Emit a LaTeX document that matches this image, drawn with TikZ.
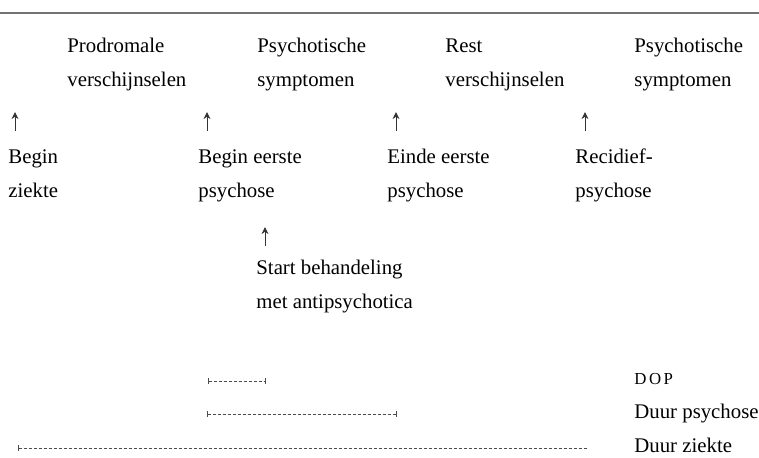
\documentclass[tikz,border=0pt]{standalone}
\usepackage{fontspec}
\setmainfont{Liberation Serif}
\usetikzlibrary{arrows.meta}

\tikzset{
  tekst/.style={anchor=base west, inner sep=0pt, align=left,
    font=\fontsize{10.4}{17}\selectfont},
  pijl/.style={-{Stealth[length=3.5pt,width=3.4pt]}, line width=0.4pt, black!80},
  balk/.style={dash pattern=on 1.5pt off 1pt, line width=0.35pt, black!70},
}

\begin{document}
\begin{tikzpicture}[x=0.5pt,y=-0.5pt]
\useasboundingbox (0,0) rectangle (759,457);
\coordinate (lijn-l) at (0,13);
\coordinate (lijn-r) at (759,13);
\draw[black!55, line width=0.6pt] (lijn-l) -- (lijn-r);
% fasen (base = onderste regel)
\node[tekst] (prodromaal) at (67,86) {Prodromale\\verschijnselen};
\node[tekst] (psychotisch1) at (257,86) {Psychotische\\symptomen};
\node[tekst] (rest) at (445,86) {Rest\\verschijnselen};
\node[tekst] (psychotisch2) at (634,86) {Psychotische\\symptomen};
% momenten
\node[tekst] (beginziekte) at (8,197) {Begin\\ziekte};
\node[tekst] (beginpsy) at (198,197) {Begin eerste\\psychose};
\node[tekst] (eindepsy) at (387,197) {Einde eerste\\psychose};
\node[tekst] (recidief) at (575,197) {Recidief-\\psychose};
\node[tekst] (start) at (256,308) {Start behandeling\\met antipsychotica};
\coordinate (s1) at (15,131);  \coordinate (t1) at (15,112);
\coordinate (s2) at (207,131); \coordinate (t2) at (207,112);
\coordinate (s3) at (396,131); \coordinate (t3) at (396,112);
\coordinate (s4) at (585,131); \coordinate (t4) at (585,112);
\coordinate (s5) at (265,246); \coordinate (t5) at (265,227);
\draw[pijl] (s1) -- (t1);
\draw[pijl] (s2) -- (t2);
\draw[pijl] (s3) -- (t3);
\draw[pijl] (s4) -- (t4);
\draw[pijl] (s5) -- (t5);
% duur
\node[tekst] (dop) at (634,384) {\fontsize{8.4}{9}\selectfont\addfontfeatures{LetterSpace=15}DOP};
\node[tekst] (duurpsy) at (634,418) {Duur psychose};
\node[tekst] (duurziekte) at (634,452) {Duur ziekte};
\coordinate (dop-a) at (208,381); \coordinate (dop-b) at (266,381);
\coordinate (psy-a) at (207,414); \coordinate (psy-b) at (397,414);
\coordinate (ziek-a) at (18,448); \coordinate (ziek-b) at (587,448);
\draw[balk, {Bar[width=3pt]}-{Bar[width=3pt]}] (dop-a) -- (dop-b);
\draw[balk, {Bar[width=3pt]}-{Bar[width=3pt]}] (psy-a) -- (psy-b);
\draw[balk, {Bar[width=3pt]}-] (ziek-a) -- (ziek-b);
\end{tikzpicture}
\end{document}
